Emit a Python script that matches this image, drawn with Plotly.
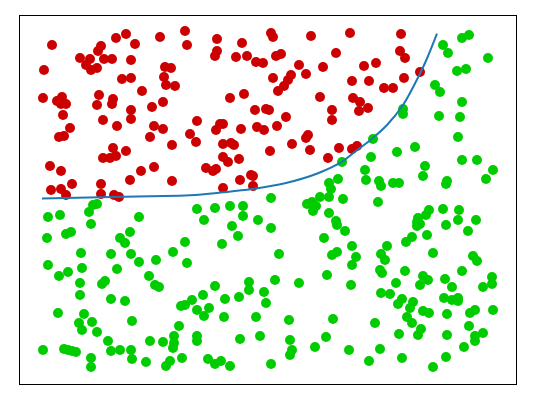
import plotly.graph_objects as go

# red class points
red_x = [32, 60, 70, 78, 81, 96, 106, 115, 84, 92, 111, 66, 71, 77, 24, 102, 111, 140, 165, 167,
         145, 151, 144, 146, 155, 122, 23, 37, 42, 41, 46, 79, 77, 93, 92, 111, 111, 132, 143, 43,
         83, 97, 50, 134, 143, 130, 39, 44, 170, 152, 93, 106, 83, 90, 96, 30, 41, 121, 134, 110,
         152, 52, 81, 31, 41, 46, 81, 94, 99, 197, 197, 195, 222, 216, 227, 251, 253, 291, 330, 316,
         256, 261, 236, 243, 279, 303, 286, 271, 268, 264, 258, 253, 332, 210, 224, 300, 333, 235, 246, 249,
         266, 312, 312, 177, 200, 203, 196, 221, 237, 244, 257, 288, 286, 176, 203, 211, 214, 250, 272, 290,
         319, 332, 337, 203, 208, 219, 308, 186, 193, 196, 220, 231, 233, 203, 233, 381, 380, 385, 344, 356,
         349, 364, 373, 384, 400, 340, 339, 348]
red_y = [339, 326, 325, 333, 338, 346, 350, 340, 325, 325, 324, 319, 314, 316, 314, 305, 306, 347, 353, 339,
         317, 316, 307, 299, 298, 293, 286, 283, 287, 280, 280, 289, 279, 285, 280, 274, 265, 277, 282, 269,
         264, 258, 256, 258, 255, 247, 247, 248, 250, 239, 236, 233, 226, 226, 228, 218, 213, 213, 217, 204,
         203, 200, 200, 194, 195, 189, 190, 189, 187, 345, 333, 328, 341, 327, 328, 351, 347, 348, 351, 331,
         328, 330, 322, 321, 319, 317, 310, 309, 304, 298, 293, 306, 303, 286, 290, 287, 286, 274, 275, 274,
         267, 274, 264, 263, 260, 260, 254, 255, 257, 254, 258, 249, 246, 242, 240, 241, 239, 233, 240, 234,
         236, 235, 238, 227, 222, 225, 226, 216, 213, 215, 204, 209, 208, 196, 198, 350, 333, 326, 318, 321,
         303, 296, 296, 306, 312, 282, 273, 276]

# green class points
green_x = [73, 77, 69, 28, 40, 71, 119, 27, 46, 51, 100, 105, 110, 165, 61, 91, 111, 153, 136, 119,
           28, 39, 48, 62, 60, 60, 97, 167, 82, 85, 129, 135, 139, 91, 105, 161, 165, 38, 64, 72,
           59, 62, 77, 112, 159, 88, 154, 154, 153, 130, 143, 23, 44, 48, 52, 56, 91, 100, 111, 112,
           71, 71, 126, 146, 150, 162, 322, 318, 309, 311, 309, 323, 300, 287, 292, 296, 293, 251, 177, 195,
           210, 223, 223, 184, 212, 218, 238, 251, 309, 316, 317, 325, 304, 332, 202, 259, 312, 317, 336, 332,
           195, 183, 172, 177, 189, 184, 205, 204, 219, 229, 229, 244, 246, 255, 279, 307, 331, 236, 269, 313,
           177, 177, 220, 240, 270, 272, 270, 295, 306, 329, 188, 195, 201, 210, 251, 423, 428, 442, 449, 468,
           437, 446, 415, 420, 442, 419, 440, 383, 383, 438, 353, 377, 395, 351, 345, 346, 359, 361, 373, 379,
           405, 403, 427, 426, 442, 457, 473, 466, 358, 409, 406, 423, 439, 398, 397, 400, 397, 426, 438, 456,
           448, 407, 392, 386, 367, 361, 365, 413, 453, 457, 360, 362, 385, 376, 403, 408, 400, 425, 432, 442,
           472, 472, 463, 361, 370, 382, 378, 393, 390, 387, 392, 403, 409, 424, 432, 438, 438, 427, 450, 455,
           473, 355, 449, 401, 398, 379, 427, 463, 455, 455, 444, 360, 382, 349, 426, 413]
green_y = [179, 180, 172, 167, 169, 160, 167, 146, 150, 152, 146, 141, 152, 142, 131, 130, 130, 132, 124, 122,
           119, 108, 112, 116, 101, 89, 115, 121, 100, 103, 108, 99, 97, 85, 83, 78, 79, 71, 70, 62,
           61, 54, 52, 63, 58, 43, 48, 41, 36, 43, 42, 34, 35, 34, 33, 32, 33, 34, 34, 25,
           26, 17, 22, 18, 23, 26, 222, 205, 201, 195, 187, 185, 187, 180, 182, 178, 173, 186, 175, 176,
           178, 178, 168, 164, 158, 148, 164, 156, 171, 163, 159, 153, 146, 138, 140, 130, 129, 132, 127, 119,
           98, 89, 84, 74, 76, 68, 85, 67, 87, 102, 94, 92, 81, 104, 101, 109, 99, 67, 64, 65,
           48, 43, 45, 48, 44, 34, 29, 37, 47, 34, 25, 20, 23, 18, 20, 339, 331, 346, 349, 326,
           313, 315, 299, 292, 282, 268, 267, 275, 270, 247, 245, 232, 237, 227, 214, 204, 203, 198, 201, 201,
           218, 208, 203, 200, 224, 224, 214, 205, 182, 174, 169, 175, 174, 166, 162, 160, 158, 159, 164, 164,
           153, 149, 147, 142, 138, 130, 124, 131, 128, 123, 114, 111, 113, 101, 108, 104, 99, 105, 97, 113,
           107, 100, 97, 91, 90, 85, 80, 82, 76, 67, 61, 73, 71, 86, 84, 86, 83, 70, 71, 74,
           74, 61, 58, 55, 49, 50, 49, 51, 48, 43, 37, 35, 26, 23, 27, 17]

# decision boundary, read along its length
curve_x = [22, 80, 130, 170, 203, 232, 265, 298, 322, 335, 352, 367, 383, 400, 407, 417]
curve_y = [185.5, 186.7, 187.8, 188.7, 191.7, 195, 200.7, 210.7, 222.3, 232.3, 245.3, 259, 279, 310.5, 325.5, 350.3]

fig = go.Figure()
fig.add_trace(go.Scatter(x=red_x, y=red_y, mode="markers",
                         marker=dict(color="#cc0000", size=10, line=dict(width=0))))
fig.add_trace(go.Scatter(x=green_x, y=green_y, mode="markers",
                         marker=dict(color="#00cc00", size=10, line=dict(width=0))))
fig.add_trace(go.Scatter(x=curve_x, y=curve_y, mode="lines",
                         line=dict(color="#1f77b4", width=2, shape="spline")))

axis_style = dict(showgrid=False, zeroline=False, showticklabels=False, ticks="",
                  showline=True, mirror=True, linecolor="black", linewidth=1)
fig.update_xaxes(range=[0, 496], **axis_style)
fig.update_yaxes(range=[0, 368], **axis_style)
# page body keeps an 8px margin, so the figure is a little smaller than the window
fig.update_layout(
    width=532, height=392,
    margin=dict(l=12, r=24, t=8, b=16),
    showlegend=False,
    plot_bgcolor="white",
    paper_bgcolor="white",
)
fig.write_html("out.html")
